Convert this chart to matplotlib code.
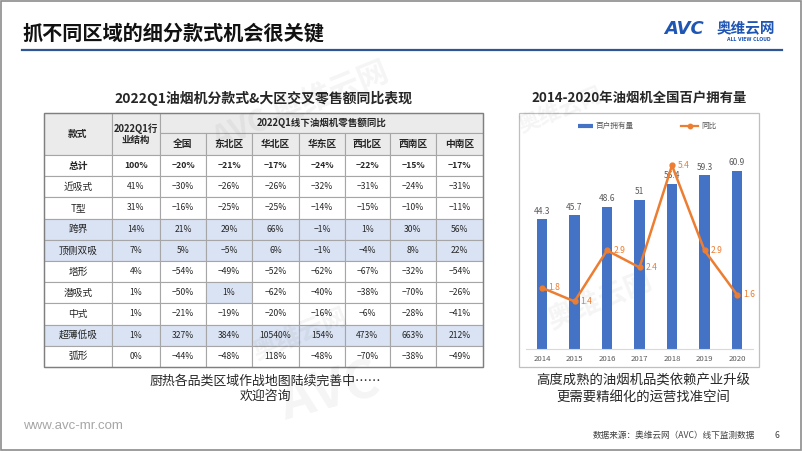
import numpy as np
import matplotlib
matplotlib.use('Agg')
import matplotlib.pyplot as plt
from matplotlib.patches import Rectangle
from matplotlib.lines import Line2D

plt.rcParams['font.family'] = ['Noto Sans CJK SC', 'DejaVu Sans']

# ---------------- data ----------------
slide_title = '抓不同区域的细分款式机会很关键'
table_title = '2022Q1油烟机分款式&大区交叉零售额同比表现'
chart_title = '2014-2020年油烟机全国百户拥有量'

head_style = '款式'
head_share = '2022Q1行\n业结构'
head_group = '2022Q1线下油烟机零售额同比'
regions = ['全国', '东北区', '华北区', '华东区', '西北区', '西南区', '中南区']
styles = ['总计', '近吸式', 'T型', '跨界', '顶侧双吸', '塔形', '潜吸式', '中式', '超薄低吸', '弧形']
share = [100, 41, 31, 14, 7, 4, 1, 1, 1, 0]
yoy_total = [-20, -21, -17, -24, -22, -15, -17]
yoy_jinxi = [-30, -26, -26, -32, -31, -24, -31]
yoy_t = [-16, -25, -25, -14, -15, -10, -11]
yoy_kuajie = [21, 29, 66, -1, 1, 30, 56]
yoy_dingce = [5, -5, 6, -1, -4, 8, 22]
yoy_ta = [-54, -49, -52, -62, -67, -32, -54]
yoy_qianxi = [-50, 1, -62, -40, -38, -70, -26]
yoy_zhong = [-21, -19, -20, -16, -6, -28, -41]
yoy_chaobo = [327, 384, 10540, 154, 473, 663, 212]
yoy_hu = [-44, -48, 118, -48, -70, -38, -49]
yoy_rows = [yoy_total, yoy_jinxi, yoy_t, yoy_kuajie, yoy_dingce,
            yoy_ta, yoy_qianxi, yoy_zhong, yoy_chaobo, yoy_hu]
highlight_rows = ['跨界', '顶侧双吸', '超薄低吸']
highlight_cells = [('潜吸式', '东北区')]

years = ['2014', '2015', '2016', '2017', '2018', '2019', '2020']
households = [44.3, 45.7, 48.6, 51, 56.4, 59.3, 60.9]
growth = [1.8, 1.4, 2.9, 2.4, 5.4, 2.9, 1.6]
bar_name = '百户拥有量'
line_name = '同比'

note_left = ['厨热各品类区域作战地图陆续完善中……', '欢迎咨询']
note_right = ['高度成熟的油烟机品类依赖产业升级', '更需要精细化的运营找准空间']
website = 'www.avc-mr.com'
source = '数据来源：奥维云网（AVC）线下监测数据'
page_no = '6'

# ---------------- figure ----------------
W, H = 802, 451
fig = plt.figure(figsize=(W / 100, H / 100), dpi=100)
ov = fig.add_axes([0, 0, 1, 1], zorder=0)
ov.set_xlim(0, W)
ov.set_ylim(H, 0)
ov.axis('off')

BLUE = '#4472c4'
ORANGE = '#ed7d31'
DARK = '#262626'

# slide frame
ov.add_patch(Rectangle((0.8, 0.8), W - 1.6, H - 1.6, fill=False, ec='#8c8c8c', lw=1.2))

# watermarks (faint)
wm = dict(color='#000000', alpha=0.045, weight='bold', ha='center', va='center')
ov.text(300, 105, 'AVC 奥维云网', fontsize=22, rotation=22, **wm)
ov.text(560, 110, '奥维云网', fontsize=16, rotation=22, **wm)
ov.text(300, 335, '奥维云网', fontsize=18, rotation=22, **wm)
ov.text(600, 300, '奥维云网', fontsize=20, rotation=22, **wm)
ov.text(330, 392, 'AVC', fontsize=38, rotation=15, **wm)

# slide title + rule
ov.text(22, 33, slide_title, fontsize=14.5, weight='bold', color='#111111', va='center', ha='left')
ov.add_line(Line2D([22, 782], [50, 50], color='#2f5597', lw=1.6))

# logo
ov.text(664, 29, 'AVC', fontsize=13, weight='bold', color='#1f56b3', va='center', ha='left',
        family='DejaVu Sans', style='italic')
ov.text(746, 28, '奥维云网', fontsize=10.5, weight='bold', color='#1f56b3', va='center', ha='center')
ov.text(749, 39.5, 'ALL VIEW CLOUD', fontsize=3.3, weight='bold', color='#1f56b3', va='center',
        ha='center', family='DejaVu Sans')

# ---------------- table ----------------
ov.text(263, 98, table_title, fontsize=10, weight='bold', color=DARK, ha='center', va='center')
col_x = [44, 112, 160, 206, 252, 299, 345, 390, 436, 483]
top, h1, h2 = 113, 133, 155
rh = 21.2
HEAD_BG = '#ebebeb'
HL_BG = '#dae3f3'
GRID = '#a6a6a6'


def cell(x0, y0, x1, y1, fc):
    ov.add_patch(Rectangle((x0, y0), x1 - x0, y1 - y0, fc=fc, ec=GRID, lw=0.8))


cell(col_x[0], top, col_x[1], h2, HEAD_BG)
ov.text((col_x[0] + col_x[1]) / 2, (top + h2) / 2, head_style, fontsize=7, weight='bold',
        color=DARK, ha='center', va='center')
cell(col_x[1], top, col_x[2], h2, HEAD_BG)
ov.text((col_x[1] + col_x[2]) / 2, (top + h2) / 2, head_share, fontsize=6.8, weight='bold',
        color=DARK, ha='center', va='center', linespacing=1.15)
cell(col_x[2], top, col_x[-1], h1, HEAD_BG)
ov.text((col_x[2] + col_x[-1]) / 2, (top + h1) / 2, head_group, fontsize=6.8, weight='bold',
        color=DARK, ha='center', va='center')
for j, rg in enumerate(regions):
    cell(col_x[j + 2], h1, col_x[j + 3], h2, HEAD_BG)
    ov.text((col_x[j + 2] + col_x[j + 3]) / 2, (h1 + h2) / 2, rg, fontsize=7, weight='bold',
            color=DARK, ha='center', va='center')


def fmt(v):
    return (f'{v}%').replace('-', '\u2212')


for i, (st, sh, vals) in enumerate(zip(styles, share, yoy_rows)):
    y0 = h2 + i * rh
    y1 = y0 + rh
    yc = (y0 + y1) / 2
    bg = HL_BG if st in highlight_rows else 'white'
    bold = 'bold' if i == 0 else 'normal'
    cell(col_x[0], y0, col_x[1], y1, bg)
    ov.text((col_x[0] + col_x[1]) / 2, yc, st, fontsize=7, weight='bold' if i == 0 else 'normal',
            color=DARK, ha='center', va='center')
    cell(col_x[1], y0, col_x[2], y1, bg)
    ov.text((col_x[1] + col_x[2]) / 2, yc, fmt(sh), fontsize=6.2, weight=bold,
            color=DARK, ha='center', va='center')
    for j, v in enumerate(vals):
        c_bg = HL_BG if (st, regions[j]) in highlight_cells else bg
        cell(col_x[j + 2], y0, col_x[j + 3], y1, c_bg)
        ov.text((col_x[j + 2] + col_x[j + 3]) / 2, yc, fmt(v), fontsize=6.2, weight=bold,
                color=DARK, ha='center', va='center')

tbl_bottom = h2 + len(styles) * rh
ov.add_patch(Rectangle((col_x[0], top), col_x[-1] - col_x[0], tbl_bottom - top,
                       fill=False, ec='#7f7f7f', lw=1.0))

# ---------------- chart ----------------
ov.text(639, 98, chart_title, fontsize=9.6, weight='bold', color=DARK, ha='center', va='center')
ov.add_patch(Rectangle((518.5, 113), 240.5, 254, fc='white', ec='#bfbfbf', lw=0.9))

ov.add_line(Line2D([578, 593], [126, 126], color=BLUE, lw=3, solid_capstyle='butt'))
ov.text(596, 126, bar_name, fontsize=5.5, color='#595959', ha='left', va='center')
ov.add_line(Line2D([681, 698], [126, 126], color=ORANGE, lw=1.6))
ov.add_line(Line2D([689.5], [126], color=ORANGE, marker='o', ms=3.2))
ov.text(701, 126, line_name, fontsize=5.5, color='#595959', ha='left', va='center')

L, R, T, B = 525.75, 753.25, 144, 349
ax = fig.add_axes([L / W, (H - B) / H, (R - L) / W, (B - T) / H], zorder=2)
ax.patch.set_alpha(0)
x = np.arange(len(years))
ax.bar(x, households, width=0.33, color=BLUE, zorder=2)
ax.set_xlim(-0.5, len(years) - 0.5)
ax.set_ylim(0, 70)
ax.set_yticks([])
for s in ['left', 'right', 'top']:
    ax.spines[s].set_visible(False)
ax.spines['bottom'].set_color('#d9d9d9')
ax.spines['bottom'].set_linewidth(0.8)
ax.set_xticks(x, years)
ax.tick_params(axis='x', length=0, labelsize=5.6, labelcolor='#595959', pad=4)
for xi, v in zip(x, households):
    ax.annotate(f'{v:g}', (xi, v), xytext=(0, 5.8), textcoords='offset points',
                ha='center', va='center', fontsize=6, color='#595959')

ax2 = ax.twinx()
ax2.set_zorder(3)
ax2.patch.set_alpha(0)
ax2.plot(x, growth, color=ORANGE, lw=1.8, marker='o', ms=3.5)
ax2.set_ylim(0, 6.03)
ax2.axis('off')
for xi, v in zip(x, growth):
    ax2.annotate(f'{v:g}', (xi, v), xytext=(4.5, 0), textcoords='offset points',
                 ha='left', va='center', fontsize=6.2, color=ORANGE)

# ---------------- notes & footer ----------------
ov.text(265, 381, note_left[0], fontsize=9.3, color=DARK, ha='center', va='center')
ov.text(265, 396, note_left[1], fontsize=9.3, color=DARK, ha='center', va='center')
ov.text(643, 381, note_right[0], fontsize=9.6, color=DARK, ha='center', va='center')
ov.text(643, 397, note_right[1], fontsize=9.6, color=DARK, ha='center', va='center')

ov.text(23, 426, website, fontsize=9.5, color='#a6a6a6', ha='left', va='center', family='Liberation Sans')
ov.text(755, 435, source, fontsize=6.2, color='#404040', ha='right', va='center')
ov.text(777, 435, page_no, fontsize=6.2, color='#404040', ha='center', va='center')

fig.savefig('out.png', dpi=100)
